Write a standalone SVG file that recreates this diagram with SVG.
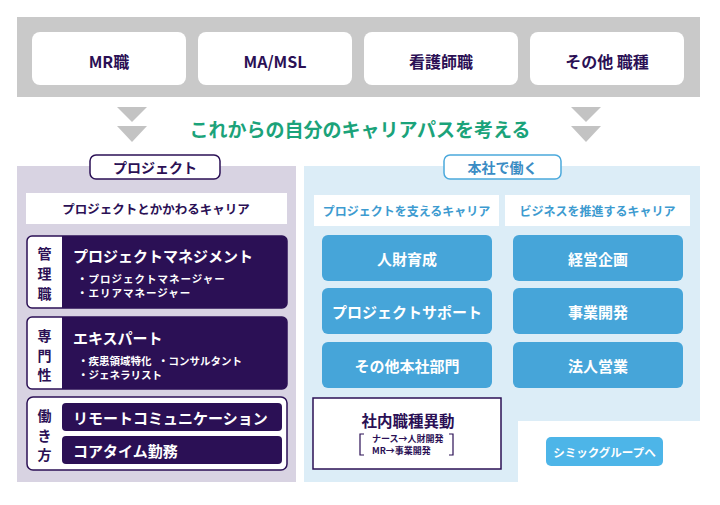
<svg xmlns="http://www.w3.org/2000/svg" width="720" height="505" viewBox="0 0 720 505">
<style>
text{font-family:"Noto Sans CJK JP","Noto Sans",sans-serif;font-weight:700;dominant-baseline:central}
.dk{fill:#2b1055}
.wt{fill:#ffffff}
.mid{text-anchor:middle}
.top{font-size:16px}
.topbox{fill:#ffffff}
.arrow{fill:#c3c3c3}
.lbl{font-size:14px}
.ttl{font-size:15px}
.sub{font-size:10.5px}
.subw{font-size:10.5px;letter-spacing:1px}
.bluebox{fill:#46a5d9}
.bt{font-size:15px;fill:#ffffff}
.strip{fill:#ffffff}
.bs{font-size:12px;fill:#3d9bd0}
</style>
<rect width="720" height="505" fill="#ffffff"/>

<g id="band">
<rect x="17" y="17" width="683" height="80" fill="#c9c9c9"/>
</g>
<g id="node-mr"><rect class="topbox" x="32" y="32" width="154" height="53" rx="8"/><text class="dk mid top" x="109" y="61">MR職</text></g>
<g id="node-ma"><rect class="topbox" x="198" y="32" width="154" height="53" rx="8"/><text class="dk mid top" x="275" y="61">MA/MSL</text></g>
<g id="node-nurse"><rect class="topbox" x="364" y="32" width="154" height="53" rx="8"/><text class="dk mid top" x="441" y="61">看護師職</text></g>
<g id="node-other"><rect class="topbox" x="530" y="32" width="154" height="53" rx="8"/><text class="dk mid top" x="607" y="61">その他 職種</text></g>

<g id="connectors">
<polygon class="arrow" points="117,107 147,107 132,122"/>
<polygon class="arrow" points="117,126 147,126 132,142"/>
<polygon class="arrow" points="571,107 601,107 586,122"/>
<polygon class="arrow" points="571,126 601,126 586,142"/>
</g>
<g id="title"><text class="mid" x="360" y="128" font-size="19" fill="#1ba37a">これからの自分のキャリアパスを考える</text></g>

<g id="project-panel">
<rect x="17" y="166" width="279" height="316" fill="#d8d3e2"/>
<rect x="90" y="155" width="130" height="24" rx="6" fill="#ffffff" stroke="#2b1055" stroke-width="1.5"/>
<text class="dk mid" x="155" y="167" font-size="14">プロジェクト</text>
<rect class="strip" x="26" y="193" width="261" height="31"/>
<text class="dk mid" x="156" y="208.5" font-size="12.5">プロジェクトとかかわるキャリア</text>
</g>

<g id="node-management">
<rect x="27" y="236" width="260" height="72" rx="5" fill="#ffffff" stroke="#2b1055" stroke-width="1.5"/>
<path d="M62,236 H282 A5,5 0 0 1 287,241 V303 A5,5 0 0 1 282,308 H62 Z" fill="#2b1055"/>
<text class="dk mid lbl" x="44.5" y="253">管</text>
<text class="dk mid lbl" x="44.5" y="273">理</text>
<text class="dk mid lbl" x="44.5" y="293">職</text>
<text class="wt ttl" x="73" y="255">プロジェクトマネジメント</text>
<text class="wt subw" x="77" y="278.5">・プロジェクトマネージャー</text>
<text class="wt subw" x="77" y="292.5">・エリアマネージャー</text>
</g>

<g id="node-expert">
<rect x="27" y="317" width="260" height="72" rx="5" fill="#ffffff" stroke="#2b1055" stroke-width="1.5"/>
<path d="M62,317 H282 A5,5 0 0 1 287,322 V384 A5,5 0 0 1 282,389 H62 Z" fill="#2b1055"/>
<text class="dk mid lbl" x="44.5" y="335">専</text>
<text class="dk mid lbl" x="44.5" y="354.5">門</text>
<text class="dk mid lbl" x="44.5" y="374">性</text>
<text class="wt ttl" x="73" y="337">エキスパート</text>
<text class="wt sub" x="78" y="360">・疾患領域特化</text>
<text class="wt sub" x="158" y="360">・コンサルタント</text>
<text class="wt sub" x="78" y="374">・ジェネラリスト</text>
</g>

<g id="node-workstyle">
<rect x="27" y="397" width="260" height="73" rx="6" fill="#ffffff" stroke="#2b1055" stroke-width="1.5"/>
<rect x="62" y="403" width="220" height="28" rx="4" fill="#2b1055"/>
<rect x="62" y="436" width="220" height="28" rx="4" fill="#2b1055"/>
<text class="dk mid lbl" x="44.5" y="415">働</text>
<text class="dk mid lbl" x="44.5" y="434.5">き</text>
<text class="dk mid lbl" x="44.5" y="454">方</text>
<text class="wt ttl" x="73" y="417">リモートコミュニケーション</text>
<text class="wt ttl" x="73" y="450">コアタイム勤務</text>
</g>

<g id="hq-panel">
<polygon points="304,166 700,166 700,421 518,421 518,482 304,482" fill="#dcedf7"/>
<rect x="444" y="155" width="117" height="24" rx="6" fill="#ffffff" stroke="#4ba9dc" stroke-width="1.5"/>
<text class="mid" x="502.5" y="167" font-size="14" fill="#3a8cc4">本社で働く</text>
<rect class="strip" x="314" y="195" width="185" height="31"/>
<text class="bs mid" x="406.5" y="210.5">プロジェクトを支えるキャリア</text>
<rect class="strip" x="505" y="195" width="185" height="31"/>
<text class="bs mid" x="597.5" y="210.5">ビジネスを推進するキャリア</text>
</g>

<g id="node-hr"><rect class="bluebox" x="322" y="235" width="170" height="46" rx="6"/><text class="bt mid" x="407" y="258">人財育成</text></g>
<g id="node-support"><rect class="bluebox" x="322" y="288" width="170" height="46" rx="6"/><text class="bt mid" x="407" y="311">プロジェクトサポート</text></g>
<g id="node-otherhq"><rect class="bluebox" x="322" y="342" width="170" height="46" rx="6"/><text class="bt mid" x="407" y="365">その他本社部門</text></g>
<g id="node-planning"><rect class="bluebox" x="513" y="235" width="170" height="46" rx="6"/><text class="bt mid" x="598" y="258">経営企画</text></g>
<g id="node-bizdev"><rect class="bluebox" x="513" y="288" width="170" height="46" rx="6"/><text class="bt mid" x="598" y="311">事業開発</text></g>
<g id="node-sales"><rect class="bluebox" x="513" y="342" width="170" height="46" rx="6"/><text class="bt mid" x="598" y="365">法人営業</text></g>

<g id="node-transfer">
<rect x="313" y="398" width="188" height="71" fill="#ffffff" stroke="#2b1055" stroke-width="1.5"/>
<text class="dk mid" x="408" y="420" font-size="15.5">社内職種異動</text>
<path d="M364,434 H360 V455 H364 M449,434 H453 V455 H449" fill="none" stroke="#2b1055" stroke-width="1.2"/>
<text class="dk" x="372" y="438" font-size="9">ナース→人財開発</text>
<text class="dk" x="372" y="450" font-size="9">MR→事業開発</text>
</g>

<g id="node-group">
<rect x="546" y="437" width="117" height="29" rx="5" fill="#4db5e8"/>
<text class="wt mid" x="604.5" y="451.5" font-size="11.5">シミックグループへ</text>
</g>
</svg>
